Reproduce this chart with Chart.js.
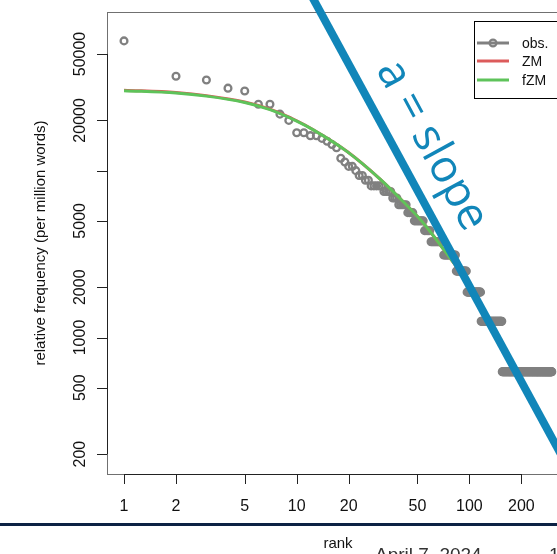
<!DOCTYPE html>
<html lang="en">
<head>
<meta charset="UTF-8">
<title>Zipf-Mandelbrot fit</title>
<script src="https://cdn.jsdelivr.net/npm/chart.js"></script>
<style>
  html, body { margin: 0; padding: 0; background: #fff; overflow: hidden; }
  #wrap { width: 557px; height: 554px; overflow: hidden; position: relative; }
</style>
</head>
<body>
<div id="wrap"><canvas id="zipfChart" width="600" height="554"></canvas></div>
<script>
// observed frequencies, stored as runs of tied ranks
const obsRankFrom = [1, 2, 3, 4, 5, 6, 8, 9, 10, 12, 14, 15, 16, 17, 18, 19, 20, 22, 23, 25, 27, 32, 36, 39, 44, 48, 55, 60, 71, 84, 97, 117, 155];
const obsRankTo   = [1, 2, 3, 4, 5, 7, 8, 9, 11, 13, 14, 15, 16, 17, 18, 19, 21, 22, 24, 26, 31, 35, 38, 43, 47, 54, 59, 70, 83, 96, 116, 154, 300];
const obsFreq     = [59900, 36800, 34900, 31200, 30000, 25000, 21800, 20000, 16850, 16200, 15600, 15000, 14350, 13700, 11850, 11250, 10600, 10000, 9350, 8750,
                     8100, 7500, 6850, 6250, 5600, 5000, 4370, 3750, 3120, 2500, 1870, 1250, 624];

// fitted models
const fitRank = [1, 2, 3, 5, 7, 10, 12.4, 19.6, 30.4, 42.4, 53.2, 72.2, 92, 125, 172, 300];
const zmFreq  = [30350, 29350, 28150, 25800, 23350, 19900, 17650, 13030, 8900, 6350, 4950, 3290, 2340, 1400, 730, 240];
const fzmFreq = [30150, 29150, 27950, 25600, 23200, 19800, 17600, 13000, 8900, 6350, 4950, 3290, 2340, 1400, 730, 240];

// the straight line with slope a
const slopeRank = [12.3, 407];
const slopeFreq = [109700, 140.6];

const xTickValues = [1, 2, 5, 10, 20, 50, 100, 200];
const xTickLabels = ['1', '2', '5', '10', '20', '50', '100', '200'];
const yTickValues = [200, 500, 1000, 2000, 5000, 10000, 20000, 50000];
const yTickLabels = ['200', '500', '1000', '2000', '5000', '', '20000', '50000'];

const GREY = '#808080';
const RED = '#dc5b5b';
const GREEN = '#5ec35a';
const BLUE = '#1186b9';
const FONT = '"Liberation Sans", Arial, Helvetica, sans-serif';

const obsPoints = [];
obsRankFrom.forEach((from, i) => {
  for (let r = from; r <= obsRankTo[i]; r++) obsPoints.push({ x: r, y: obsFreq[i] });
});
const toXY = (xs, ys) => xs.map((v, i) => ({ x: v, y: ys[i] }));

// R-style box, axes, ticks and titles
const axesPlugin = {
  id: 'baseAxes',
  beforeDatasetsDraw(chart) {
    const { ctx, chartArea: a, scales: { x, y } } = chart;
    ctx.save();
    ctx.strokeStyle = '#707070';
    ctx.lineWidth = 1;
    ctx.strokeRect(a.left + 0.5, a.top + 0.5, a.right - a.left, a.bottom - a.top);

    ctx.strokeStyle = '#222';
    ctx.fillStyle = '#111';
    // x axis
    const x0 = x.getPixelForValue(xTickValues[0]);
    const x1 = x.getPixelForValue(xTickValues[xTickValues.length - 1]);
    ctx.beginPath();
    ctx.moveTo(x0, a.bottom + 0.5);
    ctx.lineTo(x1, a.bottom + 0.5);
    xTickValues.forEach(v => {
      const px = Math.round(x.getPixelForValue(v)) + 0.5;
      ctx.moveTo(px, a.bottom);
      ctx.lineTo(px, a.bottom + 10);
    });
    ctx.stroke();
    ctx.font = '16px ' + FONT;
    ctx.textAlign = 'center';
    ctx.textBaseline = 'alphabetic';
    xTickValues.forEach((v, i) => ctx.fillText(xTickLabels[i], x.getPixelForValue(v), a.bottom + 37));

    // y axis
    const y0 = y.getPixelForValue(yTickValues[0]);
    const y1 = y.getPixelForValue(yTickValues[yTickValues.length - 1]);
    ctx.beginPath();
    ctx.moveTo(a.left + 0.5, y0);
    ctx.lineTo(a.left + 0.5, y1);
    yTickValues.forEach(v => {
      const py = Math.round(y.getPixelForValue(v)) + 0.5;
      ctx.moveTo(a.left, py);
      ctx.lineTo(a.left - 10, py);
    });
    ctx.stroke();
    yTickValues.forEach((v, i) => {
      if (!yTickLabels[i]) return;
      ctx.save();
      ctx.translate(a.left - 22, y.getPixelForValue(v));
      ctx.rotate(-Math.PI / 2);
      ctx.fillText(yTickLabels[i], 0, 0);
      ctx.restore();
    });

    // titles
    ctx.font = '15px ' + FONT;
    ctx.save();
    ctx.translate(45, (a.top + a.bottom) / 2);
    ctx.rotate(-Math.PI / 2);
    ctx.fillText('relative frequency (per million words)', 0, 0);
    ctx.restore();
    ctx.fillText('rank', (a.left + a.right) / 2, 548);
    ctx.restore();
  },
  afterDatasetsDraw(chart) {
    const { ctx } = chart;
    ctx.save();
    // "a = slope" written along the blue line
    const meta = chart.getDatasetMeta(0);
    const p0 = meta.data[0], p1 = meta.data[1];
    const ang = Math.atan2(p1.y - p0.y, p1.x - p0.x);
    const t = 0.341;
    const cx = p0.x + (p1.x - p0.x) * t + Math.sin(ang) * 34;
    const cy = p0.y + (p1.y - p0.y) * t - Math.cos(ang) * 34;
    ctx.translate(cx, cy);
    ctx.rotate(ang);
    ctx.fillStyle = BLUE;
    ctx.font = '45px "Open Sans", "Noto Sans", sans-serif';
    ctx.textAlign = 'center';
    ctx.textBaseline = 'middle';
    ctx.fillText('a = slope', 0, 0);
    ctx.restore();

    // legend
    ctx.save();
    ctx.strokeStyle = '#000';
    ctx.lineWidth = 1;
    ctx.fillStyle = '#fff';
    ctx.fillRect(474.5, 21.5, 86, 77);
    ctx.strokeRect(474.5, 21.5, 86, 77);
    const rows = [
      { label: 'obs.', color: GREY, y: 43, marker: true },
      { label: 'ZM', color: RED, y: 61, marker: false },
      { label: 'fZM', color: GREEN, y: 80, marker: false }
    ];
    ctx.font = '14px ' + FONT;
    ctx.textBaseline = 'middle';
    ctx.textAlign = 'left';
    rows.forEach(r => {
      ctx.strokeStyle = r.color;
      ctx.lineWidth = 3;
      ctx.beginPath();
      ctx.moveTo(477, r.y);
      ctx.lineTo(509, r.y);
      ctx.stroke();
      if (r.marker) {
        ctx.lineWidth = 2.3;
        ctx.beginPath();
        ctx.arc(493, r.y, 3.4, 0, Math.PI * 2);
        ctx.stroke();
      }
      ctx.fillStyle = '#111';
      ctx.fillText(r.label, 522, r.y + 1);
    });
    ctx.restore();
  },
  afterDraw(chart) {
    const { ctx } = chart;
    ctx.save();
    // slide footer
    ctx.fillStyle = '#0c2244';
    ctx.fillRect(0, 523, chart.width, 3);
    ctx.fillStyle = '#333';
    ctx.font = '19px ' + FONT;
    ctx.textBaseline = 'alphabetic';
    ctx.fillText('April 7, 2024', 375, 561);
    ctx.fillText('1', 549, 561);
    ctx.restore();
  }
};

new Chart(document.getElementById('zipfChart'), {
  type: 'line',
  data: {
    datasets: [
      {
        label: 'a = slope',
        data: toXY(slopeRank, slopeFreq),
        borderColor: BLUE,
        borderWidth: 8,
        pointRadius: 0,
        clip: false,
        order: 0
      },
      {
        label: 'fZM',
        data: toXY(fitRank, fzmFreq),
        borderColor: GREEN,
        borderWidth: 3,
        pointRadius: 0,
        cubicInterpolationMode: 'monotone',
        order: 1
      },
      {
        label: 'ZM',
        data: toXY(fitRank, zmFreq),
        borderColor: RED,
        borderWidth: 3,
        pointRadius: 0,
        cubicInterpolationMode: 'monotone',
        order: 2
      },
      {
        label: 'obs.',
        data: obsPoints,
        showLine: false,
        pointRadius: 3.4,
        pointBorderWidth: 2.3,
        pointBorderColor: GREY,
        pointBackgroundColor: 'rgba(0,0,0,0)',
        order: 3
      }
    ]
  },
  options: {
    responsive: false,
    devicePixelRatio: 1,
    animation: false,
    layout: { padding: { left: 107, top: 12, right: 31, bottom: 80 } },
    scales: {
      x: { type: 'logarithmic', display: false, min: 0.797, max: 377.4, bounds: 'data' },
      y: { type: 'logarithmic', display: false, min: 152.1, max: 89230, bounds: 'data' }
    },
    plugins: {
      legend: { display: false },
      tooltip: { enabled: false }
    }
  },
  plugins: [axesPlugin]
});
</script>
</body>
</html>
